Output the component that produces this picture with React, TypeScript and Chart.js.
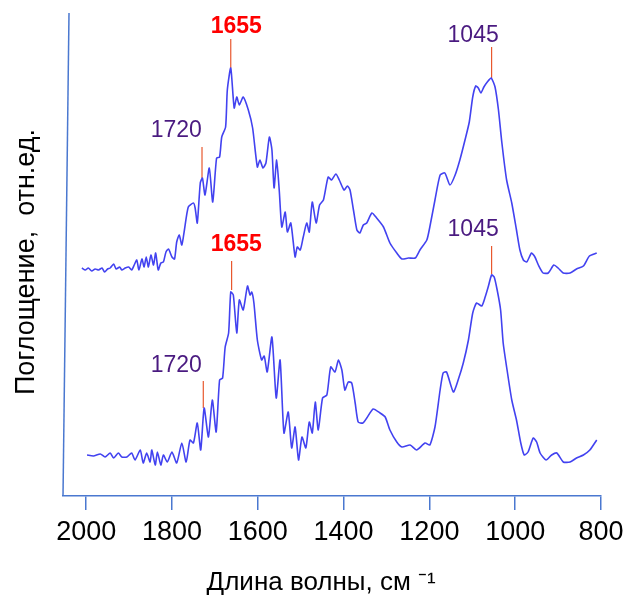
import React, { useEffect, useRef } from "react";
import { Chart, registerables } from "chart.js";

Chart.register(...registerables);

// Top spectrum (wavenumber, cm-1) and absorbance (arbitrary units)
const topWavenumbers = [2010, 2002, 1995, 1987, 1979, 1971, 1963, 1957, 1950, 1944, 1936, 1930, 1922, 1917, 1909, 1901, 1894, 1888, 1882, 1877, 1870, 1865, 1860, 1855, 1849, 1843, 1838, 1832, 1826, 1820, 1814, 1808, 1800, 1794, 1789, 1783, 1777, 1771, 1762, 1750, 1746, 1741, 1734, 1729, 1723, 1713, 1705, 1696, 1689, 1684, 1675, 1671, 1663, 1655, 1649, 1643, 1634, 1622, 1612, 1601, 1595, 1588, 1581, 1573, 1567, 1562, 1556, 1550, 1544, 1536, 1531, 1523, 1513, 1508, 1501, 1494, 1486, 1480, 1473, 1464, 1456, 1447, 1436, 1428, 1418, 1410, 1399, 1391, 1385, 1377, 1369, 1362, 1354, 1346, 1334, 1323, 1307, 1292, 1276, 1264, 1249, 1233, 1222, 1206, 1199, 1187, 1175, 1164, 1152, 1140, 1129, 1117, 1107, 1099, 1092, 1086, 1080, 1073, 1065, 1056, 1047, 1039, 1031, 1020, 1008, 997, 989, 981, 973, 962, 954, 946, 935, 923, 910, 900, 888, 872, 857, 841, 827, 810];
const topAbsorbance = [228, 226, 228, 225, 227, 226, 228, 224, 227, 228, 232, 227, 229, 226, 228, 229, 226, 231, 236, 226, 237, 229, 239, 229, 241, 231, 243, 226, 233, 234, 244, 247, 239, 237, 254, 261, 251, 266, 289, 293, 288, 273, 313, 318, 301, 328, 294, 338, 339, 359, 369, 406, 428, 388, 399, 391, 399, 386, 368, 329, 336, 328, 333, 359, 346, 308, 336, 306, 269, 284, 264, 273, 239, 249, 246, 259, 273, 264, 294, 273, 291, 296, 319, 316, 322, 316, 306, 310, 306, 286, 266, 263, 271, 273, 283, 278, 269, 253, 243, 237, 238, 238, 246, 256, 269, 296, 321, 323, 311, 321, 336, 356, 374, 399, 410, 408, 403, 409, 414, 418, 409, 386, 353, 316, 293, 266, 246, 236, 234, 243, 239, 231, 223, 223, 231, 228, 223, 223, 227, 230, 240, 243];

// Bottom spectrum
const bottomWavenumbers = [1998, 1983, 1967, 1956, 1944, 1936, 1925, 1917, 1905, 1894, 1886, 1874, 1867, 1859, 1851, 1847, 1839, 1834, 1826, 1820, 1811, 1800, 1789, 1777, 1767, 1758, 1750, 1741, 1733, 1725, 1715, 1706, 1697, 1689, 1682, 1676, 1668, 1663, 1657, 1649, 1643, 1634, 1624, 1618, 1614, 1609, 1601, 1591, 1585, 1578, 1567, 1557, 1548, 1539, 1529, 1521, 1513, 1505, 1497, 1488, 1480, 1473, 1466, 1459, 1449, 1439, 1430, 1420, 1412, 1404, 1397, 1389, 1381, 1373, 1366, 1355, 1346, 1331, 1315, 1303, 1292, 1276, 1264, 1245, 1230, 1210, 1199, 1187, 1175, 1168, 1160, 1144, 1133, 1121, 1109, 1099, 1090, 1078, 1070, 1063, 1055, 1049, 1042, 1034, 1028, 1020, 1008, 997, 987, 979, 970, 958, 950, 942, 928, 915, 903, 888, 872, 857, 841, 826, 810];
const bottomAbsorbance = [41, 40, 42, 39, 43, 38, 43, 39, 39, 43, 36, 46, 33, 43, 34, 46, 31, 44, 31, 41, 34, 44, 33, 53, 34, 56, 53, 73, 46, 88, 59, 96, 64, 116, 118, 149, 163, 204, 201, 163, 196, 186, 210, 201, 204, 193, 156, 136, 140, 124, 159, 98, 136, 63, 84, 48, 69, 36, 59, 48, 74, 63, 94, 66, 98, 101, 129, 124, 136, 126, 106, 114, 113, 93, 74, 73, 78, 87, 83, 79, 66, 54, 49, 51, 46, 53, 51, 69, 106, 123, 124, 104, 116, 133, 156, 183, 193, 190, 199, 209, 221, 219, 206, 186, 153, 129, 96, 76, 53, 41, 44, 58, 54, 43, 36, 41, 43, 34, 34, 38, 41, 46, 56];

// X-axis tick values
const xTicks = [2000, 1800, 1600, 1400, 1200, 1000, 800];

// Peak markers (top spectrum first, then bottom spectrum)
const markerText = ["1720", "1655", "1045", "1720", "1655", "1045"];
const markerX = [1730, 1663, 1055, 1727, 1661, 1055];
const markerFrom = [318, 428, 418, 88, 206, 222];
const markerTo = [349, 457, 449, 115, 235, 250];
const markerLabelX = [1790, 1650, 1098, 1790, 1650, 1098];
const markerLabelY = [365, 469, 460, 130, 251, 266];

const AXIS_COLOR = "#4a78d0";
const LINE_COLOR = "rgb(66,66,240)";
const MARK_COLOR = "#e8582e";
const FONT = "'Liberation Sans', Arial, sans-serif";

const slantedYAxis = {
  id: "slantedYAxis",
  afterDatasetsDraw(chart: any) {
    const { ctx, chartArea } = chart;
    ctx.save();
    ctx.strokeStyle = AXIS_COLOR;
    ctx.lineWidth = 1.5;
    ctx.beginPath();
    ctx.moveTo(chartArea.left + 6, chartArea.top);
    ctx.lineTo(chartArea.left, chartArea.bottom);
    ctx.stroke();
    ctx.restore();
  },
};

const markerLabels = {
  id: "markerLabels",
  afterDatasetsDraw(chart: any) {
    const { ctx } = chart;
    const xs = chart.scales.x;
    const ys = chart.scales.y;
    ctx.save();
    ctx.textAlign = "center";
    ctx.textBaseline = "middle";
    markerText.forEach((t, i) => {
      const bold = t === "1655";
      ctx.font = (bold ? "bold " : "") + "23px " + FONT;
      ctx.fillStyle = bold ? "#ff0000" : "#4a1a80";
      ctx.fillText(t, xs.getPixelForValue(markerLabelX[i]), ys.getPixelForValue(markerLabelY[i]));
    });
    ctx.restore();
  },
};

export default function App() {
  const ref = useRef<HTMLCanvasElement>(null);
  useEffect(() => {
    if (!ref.current) return;
    const spectrum = (xs: number[], ys: number[]) => xs.map((x, i) => ({ x, y: ys[i] }));
    const markerSets = markerX.map((x, i) => ({
      data: [
        { x, y: markerFrom[i] },
        { x, y: markerTo[i] },
      ],
      borderColor: MARK_COLOR,
      borderWidth: 1.2,
      pointRadius: 0,
      fill: false,
    }));
    const chart = new Chart(ref.current, {
      type: "line",
      data: {
        datasets: [
          {
            data: spectrum(topWavenumbers, topAbsorbance),
            borderColor: LINE_COLOR,
            borderWidth: 1.6,
            pointRadius: 0,
            tension: 0.2,
            fill: false,
          },
          {
            data: spectrum(bottomWavenumbers, bottomAbsorbance),
            borderColor: LINE_COLOR,
            borderWidth: 1.6,
            pointRadius: 0,
            tension: 0.2,
            fill: false,
          },
          ...markerSets,
        ] as any,
      },
      options: {
        responsive: false,
        animation: false,
        layout: { padding: { top: 13, right: 26, bottom: 0, left: 0 } },
        plugins: { legend: { display: false }, tooltip: { enabled: false } },
        scales: {
          x: {
            type: "linear",
            reverse: true,
            min: 800,
            max: 2054,
            afterBuildTicks: (s: any) => {
              s.ticks = xTicks.map((v) => ({ value: v }));
            },
            afterFit: (s: any) => {
              s.height = 103;
              s.paddingLeft = 0;
              s.paddingRight = 0;
            },
            grid: {
              drawOnChartArea: false,
              drawTicks: true,
              tickLength: 14,
              color: AXIS_COLOR,
              lineWidth: 1.5,
            },
            border: { display: true, color: AXIS_COLOR, width: 1.5 },
            ticks: {
              color: "#000",
              font: { family: FONT, size: 27 },
              padding: 6,
              maxRotation: 0,
              autoSkip: false,
              callback: (v: any) => String(v),
            },
            title: {
              display: true,
              text: "Длина волны, см ⁻¹   ",
              color: "#000",
              font: { family: FONT, size: 26 },
              padding: { top: 0, bottom: 1 },
            },
          },
          y: {
            type: "linear",
            min: 0,
            max: 483,
            afterFit: (s: any) => {
              s.width = 63;
              s.paddingTop = 0;
              s.paddingBottom = 0;
            },
            grid: { display: false },
            border: { display: false },
            ticks: { display: false },
            title: {
              display: true,
              text: "Поглощение,  отн.ед.  ",
              color: "#000",
              font: { family: FONT, size: 27 },
              padding: { top: 10, bottom: 0 },
            },
          },
        },
      },
      plugins: [slantedYAxis, markerLabels],
    });
    return () => chart.destroy();
  }, []);
  return (
    <div style={{ position: "absolute", left: 0, top: 0, width: 627, height: 599 }}>
      <canvas ref={ref} width={627} height={599} />
    </div>
  );
}
